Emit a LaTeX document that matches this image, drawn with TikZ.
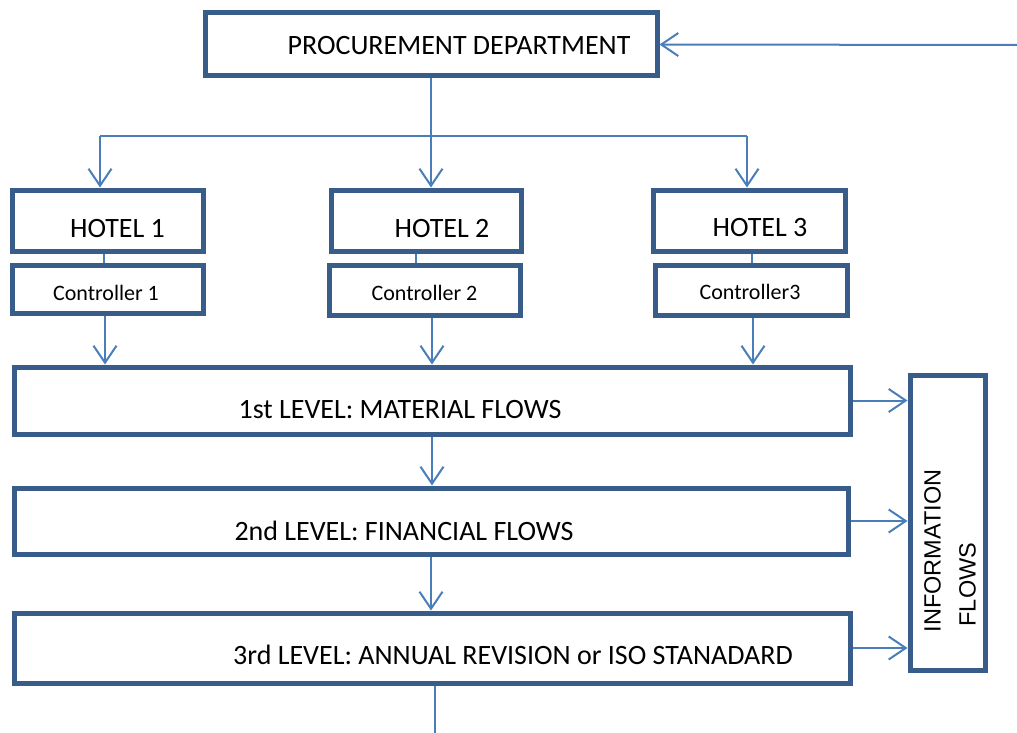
\documentclass[tikz,border=0pt]{standalone}
\usepackage{fontspec}
\setmainfont{Carlito}
\newfontfamily\infofont{Liberation Sans}
\usepackage{xcolor}
\usepackage{tikz}
\usetikzlibrary{arrows.meta}
\definecolor{boxblue}{RGB}{56,93,138}
\definecolor{flowblue}{RGB}{74,126,187}

\begin{document}
\begin{tikzpicture}[x=1pt,y=-1pt,
    box/.style={draw=boxblue,line width=5pt,inner sep=0pt},
    link/.style={draw=flowblue,line width=2pt},
    arr/.style={link,-{Straight Barb[length=17pt,width=23pt,line width=2pt]}},
    big/.style={font=\fontsize{28}{34}\selectfont},
    small/.style={font=\fontsize{22}{26}\selectfont}]
        \useasboundingbox (0,0) rectangle (1017,733);
        \node[box,minimum width=452pt,minimum height=63pt,label={[big,xshift=28pt,yshift=-1.5pt]center:PROCUREMENT DEPARTMENT}] (proc) at (431,44.5) {};
        \node[box,minimum width=191pt,minimum height=61pt,label={[big,xshift=10pt,yshift=-8pt]center:HOTEL 1}] (h1) at (107.5,220.5) {};
        \node[box,minimum width=190pt,minimum height=61pt,label={[big,xshift=16pt,yshift=-8pt]center:HOTEL 2}] (h2) at (426,220.5) {};
        \node[box,minimum width=192pt,minimum height=61pt,label={[big,xshift=11pt,yshift=-7pt]center:HOTEL 3}] (h3) at (749,220.5) {};
        \node[box,minimum width=191pt,minimum height=48pt,label={[small,xshift=-1.5pt,yshift=-4pt]center:Controller 1}] (c1) at (107.5,289) {};
        \node[box,minimum width=191pt,minimum height=50pt,label={[small,yshift=-3pt]center:Controller 2}] (c2) at (424.5,290) {};
        \node[box,minimum width=192pt,minimum height=50pt,label={[small,xshift=-1pt,yshift=-2pt]center:Controller3}] (c3) at (751,290) {};
        \node[box,minimum width=836pt,minimum height=67pt,label={[big,xshift=-32pt,yshift=-9.5pt]center:1st LEVEL: MATERIAL FLOWS}] (l1) at (432,400.5) {};
        \node[box,minimum width=834pt,minimum height=66pt,label={[big,xshift=-27pt,yshift=-10pt]center:2nd LEVEL: FINANCIAL FLOWS}] (l2) at (431,521) {};
        \node[box,minimum width=836pt,minimum height=70pt,label={[big,xshift=81pt,yshift=-7pt]center:3rd LEVEL: ANNUAL REVISION or ISO STANADARD}] (l3) at (432,648) {};
        \node[box,minimum width=75pt,minimum height=295pt,label={[xshift=2.5pt,yshift=-28.5pt,rotate=90,align=left,font=\infofont\fontsize{23.5}{35}\selectfont]center:INFORMATION\\\hspace*{6pt}FLOWS}] (info) at (947.5,522.5) {};
        \coordinate (src) at (1017,45);
        \coordinate (split) at (431,136);
        \coordinate (busL) at (100,136);
        \coordinate (busR) at (747,136);
        \coordinate (out) at (435,733);
        \draw[arr] (src) -- (proc.east);
        \draw[link] (proc.south) -- (split);
        \draw[link] (busL) -- (busR);
        \draw[arr] (busL) -- (busL |- h1.north);
        \draw[arr] (split) -- (split |- h2.north);
        \draw[arr] (busR) -- (busR |- h3.north);
        \draw[link] ([xshift=-3.5pt]h1.south) -- ([xshift=-3.5pt]h1.south |- c1.north);
        \draw[link] ([xshift=-10pt]h2.south) -- ([xshift=-10pt]h2.south |- c2.north);
        \draw[link] ([xshift=3pt]h3.south) -- ([xshift=3pt]h3.south |- c3.north);
        \draw[arr] ([xshift=-2.5pt]c1.south) -- ([xshift=-2.5pt]c1.south |- l1.north);
        \draw[arr] ([xshift=7.5pt]c2.south) -- ([xshift=7.5pt]c2.south |- l1.north);
        \draw[arr] ([xshift=2pt]c3.south) -- ([xshift=2pt]c3.south |- l1.north);
        \draw[arr] (l1.south) -- (l1.south |- l2.north);
        \draw[arr] (l2.south) -- (l2.south |- l3.north);
        \draw[link] (l3.south -| out) -- (out);
        \draw[arr] (l1.east) -- (l1.east -| info.west);
        \draw[arr] (l2.east) -- (l2.east -| info.west);
        \draw[arr] (l3.east) -- (l3.east -| info.west);
      \end{tikzpicture}
\end{document}
